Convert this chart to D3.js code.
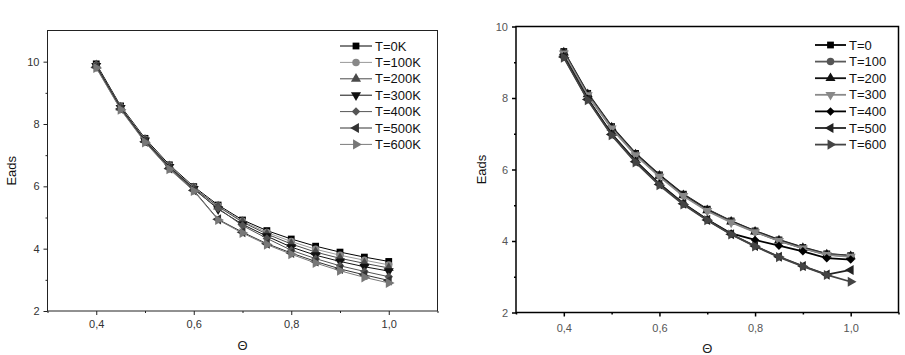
<!DOCTYPE html>
<html>
<head>
<meta charset="utf-8">
<script src="https://cdn.jsdelivr.net/npm/d3@7"></script>
<style>
  body { margin: 0; background: #fff; }
  svg { display: block; font-family: "Liberation Sans", Arial, sans-serif; }
</style>
</head>
<body>
<div id="chart"></div>
<script>
// Coverage values shared by both panels
const theta = [0.40, 0.45, 0.50, 0.55, 0.60, 0.65, 0.70, 0.75, 0.80, 0.85, 0.90, 0.95, 1.00];

// Left panel
const leftLabels = ["T=0K", "T=100K", "T=200K", "T=300K", "T=400K", "T=500K", "T=600K"];
const left0K   = [9.93, 8.58, 7.54, 6.69, 5.99, 5.40, 4.92, 4.58, 4.31, 4.08, 3.89, 3.73, 3.59];
const left100K = [9.88, 8.55, 7.51, 6.66, 5.96, 5.37, 4.88, 4.52, 4.23, 3.98, 3.79, 3.63, 3.48];
const left200K = [9.88, 8.53, 7.49, 6.64, 5.94, 5.35, 4.85, 4.47, 4.15, 3.89, 3.69, 3.53, 3.38];
const left300K = [9.86, 8.52, 7.47, 6.62, 5.92, 5.27, 4.78, 4.40, 4.05, 3.79, 3.59, 3.42, 3.28];
const left400K = [9.84, 8.50, 7.45, 6.60, 5.90, 5.30, 4.74, 4.33, 3.95, 3.68, 3.45, 3.27, 3.10];
const left500K = [9.82, 8.48, 7.43, 6.57, 5.87, 4.94, 4.53, 4.16, 3.86, 3.59, 3.35, 3.16, 2.98];
const left600K = [9.80, 8.46, 7.41, 6.55, 5.85, 4.92, 4.50, 4.13, 3.82, 3.54, 3.29, 3.08, 2.90];

// Right panel
const rightLabels = ["T=0", "T=100", "T=200", "T=300", "T=400", "T=500", "T=600"];
const right0   = [9.30, 8.13, 7.20, 6.45, 5.85, 5.31, 4.89, 4.56, 4.28, 4.03, 3.82, 3.64, 3.59];
const right100 = [9.28, 8.11, 7.18, 6.43, 5.83, 5.29, 4.87, 4.55, 4.27, 4.02, 3.81, 3.63, 3.58];
const right200 = [9.27, 8.10, 7.17, 6.42, 5.82, 5.28, 4.86, 4.54, 4.26, 4.01, 3.80, 3.62, 3.57];
const right300 = [9.25, 8.08, 7.15, 6.40, 5.80, 5.26, 4.84, 4.52, 4.25, 4.00, 3.79, 3.61, 3.56];
const right400 = [9.17, 7.98, 7.00, 6.24, 5.60, 5.05, 4.60, 4.21, 4.03, 3.87, 3.71, 3.52, 3.48];
const right500 = [9.15, 7.96, 6.98, 6.22, 5.58, 5.04, 4.59, 4.19, 3.86, 3.56, 3.30, 3.06, 3.19];
const right600 = [9.13, 7.94, 6.96, 6.20, 5.56, 5.02, 4.58, 4.18, 3.85, 3.55, 3.29, 3.05, 2.86];

const xTicks = [0.4, 0.6, 0.8, 1.0];
const xMinor = [0.3, 0.5, 0.7, 0.9, 1.1];
const yTicks = [2, 4, 6, 8, 10];
const yMinor = [3, 5, 7, 9];

// marker shapes in legend order: square, circle, up, down, diamond, left, right
const shapes = [
  {type: d3.symbolSquare, size: 46, rot: 0},
  {type: d3.symbolCircle, size: 44, rot: 0},
  {type: d3.symbolTriangle, size: 44, rot: 0},
  {type: d3.symbolTriangle, size: 44, rot: 180},
  {type: d3.symbolSquare, size: 36, rot: 45},
  {type: d3.symbolTriangle, size: 44, rot: -90},
  {type: d3.symbolTriangle, size: 44, rot: 90}
];

const width = 905;
const height = 355;

const svg = d3.select("#chart")
  .append("svg")
  .attr("width", width)
  .attr("height", height);

const fmtComma = d => d3.format(".1f")(d).replace(".", ",");

function drawPanel(opts) {
  const x = d3.scaleLinear().domain([0.3, 1.1]).range([opts.left, opts.right]);
  const y = d3.scaleLinear().domain(opts.yDomain).range([opts.bottom, opts.top]);
  const g = svg.append("g");

  // axes
  const xAxis = g.append("g")
    .attr("transform", `translate(0,${opts.bottom})`)
    .call(d3.axisBottom(x).tickValues(xTicks).tickSize(4).tickFormat(fmtComma));
  g.append("g")
    .attr("transform", `translate(0,${opts.bottom})`)
    .call(d3.axisBottom(x).tickValues(xMinor).tickSize(2).tickFormat(""));
  const yAxis = g.append("g")
    .attr("transform", `translate(${opts.left},0)`)
    .call(d3.axisLeft(y).tickValues(yTicks).tickSize(4).tickFormat(d3.format("d")));
  g.append("g")
    .attr("transform", `translate(${opts.left},0)`)
    .call(d3.axisLeft(y).tickValues(yMinor).tickSize(2).tickFormat(""));

  g.selectAll(".domain").remove();
  g.selectAll(".tick line").attr("stroke", opts.axisColor).attr("stroke-width", opts.frameWidth);
  xAxis.selectAll("text")
    .attr("dy", 0).attr("y", opts.xLabelY)
    .style("font-size", "11px").attr("fill", opts.tickColor);
  yAxis.selectAll("text")
    .attr("x", -8)
    .style("font-size", "11px").attr("fill", opts.tickColor);

  // frame
  g.append("rect")
    .attr("x", opts.left).attr("y", opts.top)
    .attr("width", opts.right - opts.left)
    .attr("height", opts.bottom - opts.top)
    .attr("fill", "none")
    .attr("stroke", opts.axisColor)
    .attr("stroke-width", opts.frameWidth);

  // titles
  g.append("text")
    .attr("x", (opts.left + opts.right) / 2)
    .attr("y", opts.thetaY)
    .attr("text-anchor", "middle")
    .style("font-size", "13px")
    .attr("fill", "#222")
    .text("\u0398");
  g.append("text")
    .attr("transform", `translate(${opts.eadsX},${(opts.top + opts.bottom) / 2}) rotate(-90)`)
    .attr("text-anchor", "middle")
    .style("font-size", "13px")
    .attr("fill", "#111")
    .text("Eads");

  const line = d3.line().x(d => x(d[0])).y(d => y(d[1]));

  opts.series.forEach((s, i) => {
    const pts = theta.map((t, k) => [t, s[k]]);
    const sh = shapes[i];
    g.append("path")
      .datum(pts)
      .attr("d", line)
      .attr("fill", "none")
      .attr("stroke", opts.colors[i])
      .attr("stroke-width", opts.lineWidth);
    g.selectAll(null)
      .data(pts)
      .enter()
      .append("path")
      .attr("d", d3.symbol().type(sh.type).size(sh.size))
      .attr("transform", d => `translate(${x(d[0])},${y(d[1])}) rotate(${sh.rot})`)
      .attr("fill", opts.markerColors[i]);
  });

  // legend
  const lg = g.append("g").attr("transform", `translate(${opts.legendX},${opts.legendY})`);
  opts.labels.forEach((lab, i) => {
    const row = lg.append("g").attr("transform", `translate(0,${i * opts.legendStep})`);
    const sh = shapes[i];
    row.append("line")
      .attr("x1", 0).attr("x2", opts.legendLine)
      .attr("y1", 0).attr("y2", 0)
      .attr("stroke", opts.colors[i])
      .attr("stroke-width", opts.lineWidth);
    row.append("path")
      .attr("d", d3.symbol().type(sh.type).size(sh.size))
      .attr("transform", `translate(${opts.legendLine / 2},0) rotate(${sh.rot})`)
      .attr("fill", opts.markerColors[i]);
    row.append("text")
      .attr("x", opts.legendLine + 3)
      .attr("y", 0)
      .attr("dy", "0.35em")
      .style("font-size", "13px")
      .attr("fill", "#111")
      .text(lab);
  });
}

drawPanel({
  left: 47.5, right: 437.5, top: 30.5, bottom: 311,
  yDomain: [2, 11],
  axisColor: "#222", tickColor: "#333", frameWidth: 1,
  xLabelY: 17, thetaY: 350, eadsX: 16,
  lineWidth: 1,
  series: [left0K, left100K, left200K, left300K, left400K, left500K, left600K],
  labels: leftLabels,
  colors: ["#000", "#999", "#4a4a4a", "#111", "#555", "#333", "#7a7a7a"],
  markerColors: ["#000", "#888", "#4a4a4a", "#111", "#555", "#333", "#777"],
  legendX: 340, legendY: 46, legendStep: 16.4, legendLine: 32
});

drawPanel({
  left: 516, right: 898.5, top: 26.5, bottom: 312.5,
  yDomain: [2, 10],
  axisColor: "#000", tickColor: "#555", frameWidth: 1.5,
  xLabelY: 19, thetaY: 353, eadsX: 486,
  lineWidth: 1.8,
  series: [right0, right100, right200, right300, right400, right500, right600],
  labels: rightLabels,
  colors: ["#000", "#5a5a5a", "#111", "#8a8a8a", "#000", "#222", "#444"],
  markerColors: ["#000", "#555", "#111", "#888", "#000", "#222", "#444"],
  legendX: 815, legendY: 45, legendStep: 16.6, legendLine: 31
});
</script>
</body>
</html>
